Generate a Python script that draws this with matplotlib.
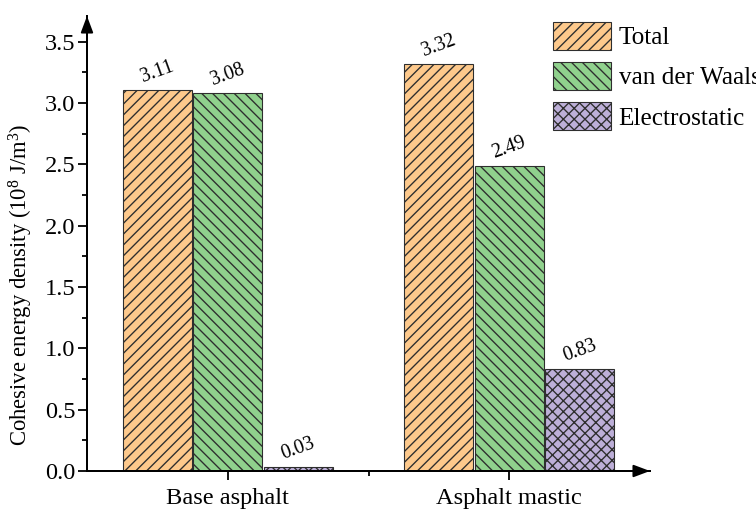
import matplotlib.pyplot as plt
import numpy as np

# cohesive energy density, 10^8 J/m^3
groups = ["Base asphalt", "Asphalt mastic"]
series_names = ["Total", "van der Waals", "Electrostatic"]
total = [3.11, 3.32]
vdw = [3.08, 2.49]
electrostatic = [0.03, 0.83]

colors = ["#FDC98C", "#90D18D", "#BDAFD8"]
hatches = ["////", "\\\\\\\\", "xxxx"]

plt.rcParams["font.family"] = ["Liberation Serif", "DejaVu Serif"]
plt.rcParams["mathtext.fontset"] = "custom"
plt.rcParams["mathtext.rm"] = "Liberation Serif"
plt.rcParams["mathtext.it"] = "Liberation Serif:italic"
plt.rcParams["hatch.linewidth"] = 0.75

dpi = 130
fig = plt.figure(figsize=(756 / dpi, 509 / dpi), dpi=dpi)
ax = fig.add_axes([87 / 756, 1 - 471 / 509, (650 - 87) / 756, (471 - 16) / 509])

x = np.arange(len(groups))
width = 0.245
offsets = [-0.25, 0.0, 0.25]
bars = []
for vals, off, c, h, name in zip([total, vdw, electrostatic], offsets,
                                 colors, hatches, series_names):
    b = ax.bar(x + off, vals, width, color=c, edgecolor="#2e2e2e",
               linewidth=0.6, hatch=h, label=name, zorder=2)
    bars.append(b)
    for xi, v in zip(x + off, vals):
        ax.annotate(f"{v:.2f}", xy=(xi, v), xytext=(0, 10),
                    textcoords="offset points", ha="center", va="center",
                    rotation=20, fontsize=11)

ax.set_xlim(-0.5, 1.5)
ax.set_ylim(0, 3.71)
ax.set_yticks(np.arange(0, 3.51, 0.5))
ax.set_yticks(np.arange(0.25, 3.5, 0.5), minor=True)
ax.set_yticklabels([f"{t:.1f}" for t in np.arange(0, 3.51, 0.5)])
ax.set_xticks(x)
ax.set_xticklabels(groups)
ax.set_xticks([0.5], minor=True)

ax.tick_params(axis="both", which="major", direction="out", length=4.8,
               width=1.0, labelsize=13.5, pad=1.5)
ax.tick_params(axis="both", which="minor", direction="out", length=2.5,
               width=1.0)
ax.tick_params(axis="x", which="major", pad=4.5)

for s in ["top", "right"]:
    ax.spines[s].set_visible(False)
for s in ["left", "bottom"]:
    ax.spines[s].set_linewidth(1.1)

# arrow heads on both axes
arrow = dict(arrowstyle="-|>,head_length=0.4,head_width=0.15",
             color="k", lw=1.1, mutation_scale=19, shrinkA=0, shrinkB=0)
ax.annotate("", xy=(1.0, 0), xytext=(0.95, 0), xycoords="axes fraction",
            arrowprops=arrow, annotation_clip=False)
ax.annotate("", xy=(0, 1.0), xytext=(0, 0.95), xycoords="axes fraction",
            arrowprops=arrow, annotation_clip=False)

ax.set_ylabel("Cohesive energy density (10$^8$ J/m$^3$)", fontsize=12.5)
ax.yaxis.set_label_coords(-0.092, 0.41)

fig.legend(handles=bars, labels=series_names, loc="upper left",
           bbox_to_anchor=(553 / 756, 1 - 22 / 509), frameon=False,
           fontsize=14, handlelength=2.3, handleheight=1.3,
           handletextpad=0.3, labelspacing=0.5, borderpad=0,
           borderaxespad=0)

fig.savefig("out.png", dpi=dpi)
